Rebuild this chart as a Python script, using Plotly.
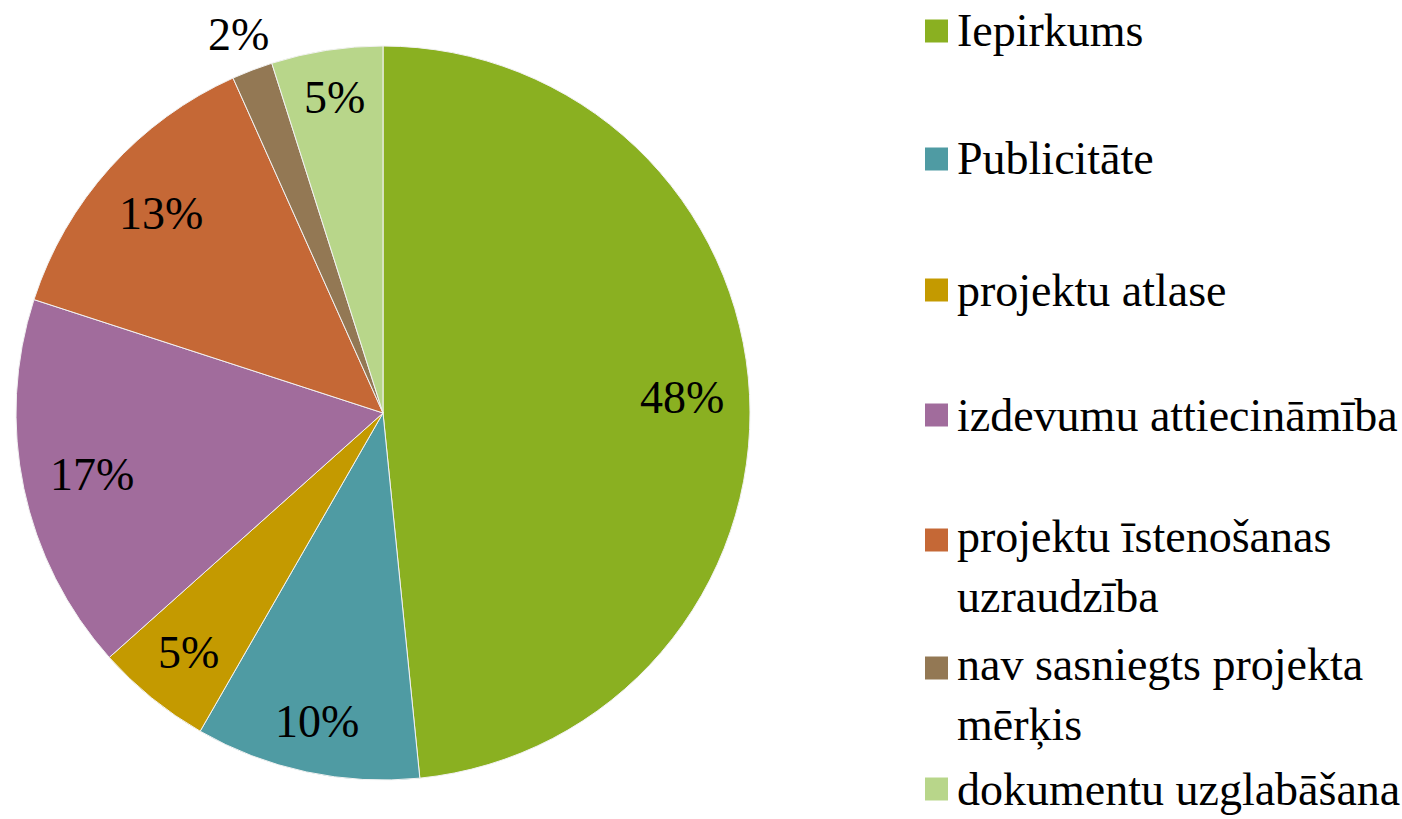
import math
import plotly.graph_objects as go

categories = [
    "Iepirkums",
    "Publicitāte",
    "projektu atlase",
    "izdevumu attiecināmība",
    "projektu īstenošanas uzraudzība",
    "nav sasniegts projekta mērķis",
    "dokumentu uzglabāšana",
]
values = [48.4, 9.9, 5.1, 16.6, 13.3, 1.8, 4.9]
colors = ["#8AB021", "#4F9BA3", "#C49A00", "#A16C9C", "#C56836", "#937854", "#B8D68A"]
legend_lines = [
    ["Iepirkums"],
    ["Publicitāte"],
    ["projektu atlase"],
    ["izdevumu attiecināmība"],
    ["projektu īstenošanas", "uzraudzība"],
    ["nav sasniegts projekta", "mērķis"],
    ["dokumentu uzglabāšana"],
]
label_outside = [False, False, False, False, False, True, False]

W, H = 1402, 819
FONT = "Liberation Serif, Times New Roman, serif"
FS = 46

# pie geometry (pixels)
CX, CY, R = 383, 413, 367

fig = go.Figure(
    go.Pie(
        labels=categories,
        values=values,
        sort=False,
        direction="clockwise",
        rotation=0,
        marker=dict(colors=colors, line=dict(color="#F2F2F2", width=1)),
        textinfo="none",
        domain=dict(x=[(CX - R) / W, (CX + R) / W], y=[1 - (CY + R) / H, 1 - (CY - R) / H]),
        showlegend=False,
        hoverinfo="label+percent",
    )
)

annotations = []
shapes = []

# percentage labels placed at slice mid-angles (derived from values)
total = sum(values)
cum = 0.0
for v, outside in zip(values, label_outside):
    frac = v / total
    mid = (cum + frac / 2) * 2 * math.pi
    cum += frac
    txt = f"{round(frac * 100):d}%"
    ux, uy = math.sin(mid), -math.cos(mid)
    half_w = 0.5 * FS * (0.5 * (len(txt) - 1) + 0.833)
    half_h = 18
    ext = abs(ux) * half_w + abs(uy) * half_h
    d = (R + 10 + ext) if outside else (342 - ext)
    px, py = CX + ux * d, CY + uy * d
    annotations.append(dict(text=txt, xref="paper", yref="paper",
                            x=px / W, y=1 - py / H, xanchor="center", yanchor="middle",
                            showarrow=False,
                            font=dict(family=FONT, size=FS, color="black")))

# legend
legend_y = [31, 159, 290, 415, 540, 668, 789]
line_h = 1.3 * FS
for lines, col, yc in zip(legend_lines, colors, legend_y):
    shapes.append(dict(type="rect", xref="paper", yref="paper",
                       x0=925 / W, x1=948 / W,
                       y0=1 - (yc + 11.5) / H, y1=1 - (yc - 11.5) / H,
                       fillcolor=col, line=dict(width=0)))
    if len(lines) == 1:
        annotations.append(dict(text=lines[0], xref="paper", yref="paper",
                                x=955 / W, y=1 - yc / H, xanchor="left", yanchor="middle",
                                showarrow=False, align="left",
                                font=dict(family=FONT, size=FS, color="black")))
    else:
        annotations.append(dict(text="<br>".join(lines), xref="paper", yref="paper",
                                x=955 / W, y=1 - (yc - line_h / 2 - 1) / H,
                                xanchor="left", yanchor="top",
                                showarrow=False, align="left",
                                font=dict(family=FONT, size=FS, color="black")))

fig.update_layout(
    width=W, height=H,
    margin=dict(l=0, r=0, t=0, b=0),
    paper_bgcolor="white", plot_bgcolor="white",
    shapes=shapes, annotations=annotations,
)

fig.write_html(
    "out.html",
    config={"displayModeBar": False},
    post_script="document.body.style.margin='0';document.body.style.overflow='hidden';",
)
